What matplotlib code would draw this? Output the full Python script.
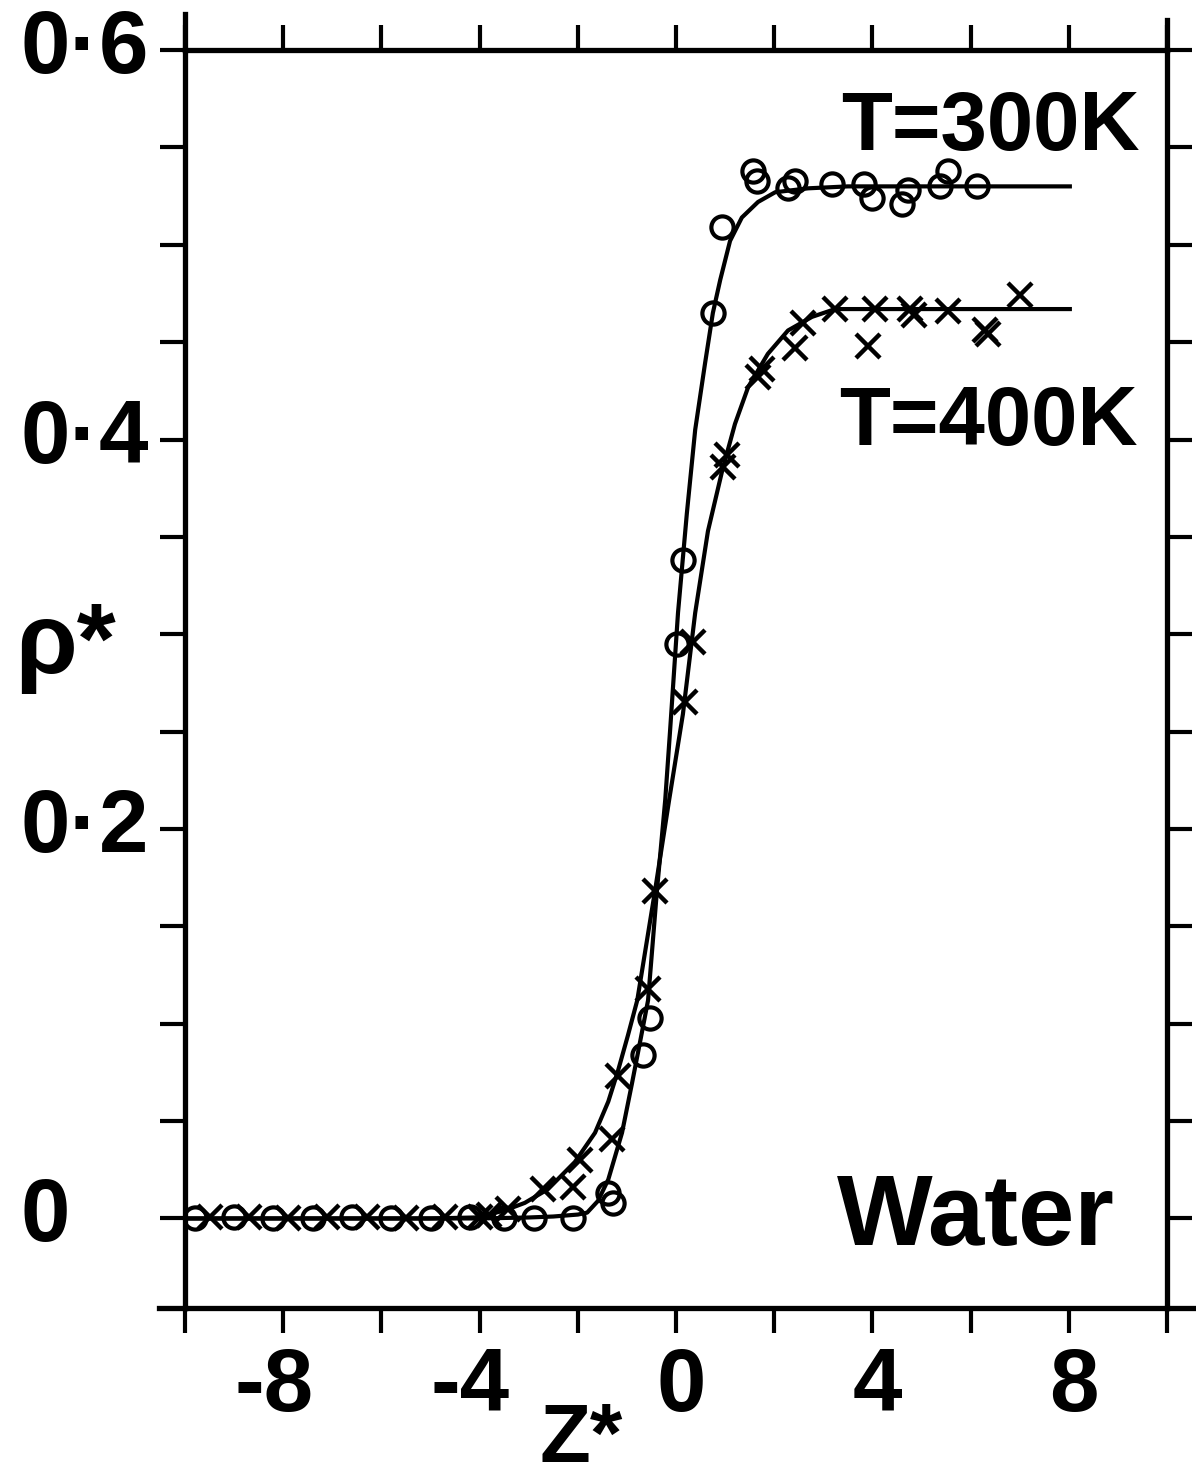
import matplotlib.pyplot as plt
import numpy as np
from matplotlib.transforms import blended_transform_factory, offset_copy

plt.rcParams['font.family'] = ['Liberation Sans', 'DejaVu Sans']
plt.rcParams['font.weight'] = 'bold'

# simulated reduced density rho* across the liquid/vapour interface of water
z_300 = [-9.8, -9.0, -8.2, -7.4, -6.6, -5.8, -5.0, -4.2, -3.5, -2.9, -2.1,
         -1.38, -1.28, -0.67, -0.53, 0.02, 0.14, 0.75, 0.94, 1.57, 1.65, 2.28,
         2.42, 3.18, 3.83, 3.99, 4.60, 4.73, 5.38, 5.54, 6.13]
rho_300 = [0.0, 0.001, 0.0, 0.0, 0.001, 0.0, 0.0, 0.001, 0.0, 0.0, 0.0,
           0.013, 0.008, 0.084, 0.103, 0.295, 0.338, 0.465, 0.509, 0.538, 0.533,
           0.529, 0.533, 0.531, 0.531, 0.524, 0.521, 0.528, 0.530, 0.538, 0.530]

z_400 = [-9.5, -8.7, -7.9, -7.1, -6.3, -5.5, -4.7, -4.0, -3.8, -3.42, -2.71, -2.10,
         -1.96, -1.30, -1.18, -0.57, -0.43, 0.18, 0.35, 0.96, 1.04, 1.67, 1.75,
         2.42, 2.59, 3.24, 3.91, 4.05, 4.77, 4.85, 5.54, 6.29, 6.35, 7.01]
rho_400 = [0.001, 0.001, 0.0, 0.001, 0.001, 0.0, 0.001, 0.001, 0.002, 0.005, 0.015, 0.016,
           0.030, 0.041, 0.073, 0.118, 0.168, 0.265, 0.296, 0.386, 0.392, 0.432, 0.436,
           0.447, 0.460, 0.467, 0.448, 0.467, 0.467, 0.464, 0.466, 0.456, 0.454, 0.474]

# fitted profiles
z_300_fit = [-10.0, -4.0, -3.0, -2.5, -2.0, -1.81, -1.59, -1.38, -1.10, -0.90, -0.73,
             -0.57, -0.39, -0.22, -0.12, 0.04, 0.22, 0.39, 0.59, 0.75, 0.90, 1.10,
             1.34, 1.67, 2.02, 2.69, 3.5, 8.02]
rho_300_fit = [0.0, 0.0, 0.0005, 0.001, 0.002, 0.003, 0.009, 0.020, 0.044, 0.069, 0.091,
               0.112, 0.168, 0.215, 0.251, 0.311, 0.362, 0.405, 0.439, 0.465, 0.482, 0.502,
               0.514, 0.522, 0.527, 0.529, 0.530, 0.530]

z_400_fit = [-10.0, -5.0, -4.09, -3.5, -3.08, -2.61, -2.06, -1.65, -1.38, -1.18, -0.98,
             -0.79, -0.43, -0.14, 0.14, 0.39, 0.65, 0.94, 1.20, 1.47, 1.87, 2.28, 2.77,
             3.24, 8.02]
rho_400_fit = [0.0, 0.0, 0.0005, 0.004, 0.008, 0.015, 0.029, 0.044, 0.060, 0.076, 0.094,
               0.112, 0.168, 0.215, 0.259, 0.311, 0.353, 0.384, 0.408, 0.427, 0.444,
               0.456, 0.463, 0.467, 0.467]

x_ticks = [-10, -8, -6, -4, -2, 0, 2, 4, 6, 8, 10]
x_labelled = [-8, -4, 0, 4, 8]
y_ticks = np.arange(0, 0.601, 0.05)
y_labels = {0.0: '0', 0.2: '0·2', 0.4: '0·4', 0.6: '0·6'}

fig = plt.figure(figsize=(11.96, 14.77), dpi=100)
ax = fig.add_axes([0.1547, 0.1144, 0.8211, 0.8517])

ax.plot(z_300_fit, rho_300_fit, color='black', lw=3)
ax.plot(z_400_fit, rho_400_fit, color='black', lw=3)
ax.plot(z_300, rho_300, 'o', ms=16, mfc='none', mec='black', mew=3)
ax.plot(z_400, rho_400, 'x', ms=17, mec='black', mew=3.2)

ax.set_xlim(-10, 10)
ax.set_ylim(-0.046, 0.6)
ax.set_xticks(x_ticks)
ax.set_yticks(y_ticks)
ax.set_xticklabels([])
ax.set_yticklabels([])
ax.tick_params(which='both', direction='out', length=18, width=3,
               top=True, right=True, color='black')
for sp in ax.spines.values():
    sp.set_linewidth(3.8)

# spine stubs crossing the corners
ax.plot([-0.026, 0], [0, 0], color='black', lw=3.8, transform=ax.transAxes, clip_on=False)
ax.plot([1, 1.03], [0, 0], color='black', lw=3.8, transform=ax.transAxes, clip_on=False)
ax.plot([0, 0], [1, 1.029], color='black', lw=3.8, transform=ax.transAxes, clip_on=False)
ax.plot([1, 1], [1, 1.024], color='black', lw=3.8, transform=ax.transAxes, clip_on=False)

# tick labels
ytrans = blended_transform_factory(ax.transAxes, ax.transData)
for v, s in y_labels.items():
    ax.text(-0.168, v, s, transform=ytrans, ha='left', va='center', fontsize=64)

xtrans = offset_copy(blended_transform_factory(ax.transData, ax.transAxes),
                     fig=fig, x=30, y=0, units='dots')
for v in x_labelled:
    ax.text(v, -0.030, str(v), transform=xtrans, ha='right', va='top', fontsize=64)

fig.text(15 / 1196, 1 - 673 / 1477, 'ρ*', ha='left', va='baseline', fontsize=72)
fig.text(540 / 1196, 1 - 1462 / 1477, 'Z*', ha='left', va='baseline', fontsize=60)

fig.text(1140 / 1196, 1 - 150 / 1477, 'T=300K', ha='right', va='baseline', fontsize=60)
fig.text(1138 / 1196, 1 - 445 / 1477, 'T=400K', ha='right', va='baseline', fontsize=60)
fig.text(1115 / 1196, 1 - 1245 / 1477, 'Water', ha='right', va='baseline', fontsize=73)

fig.savefig('out.png', dpi=100)
